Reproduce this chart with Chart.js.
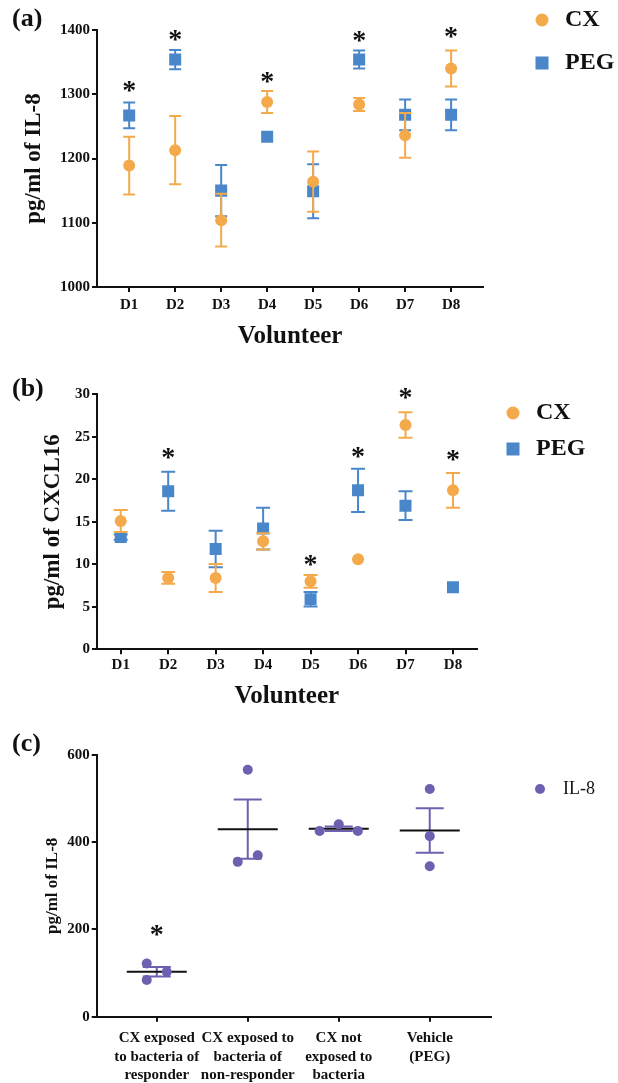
<!DOCTYPE html>
<html lang="en">
<head>
<meta charset="UTF-8">
<title>IL-8 / CXCL16 by volunteer</title>
<script src="https://cdn.jsdelivr.net/npm/chart.js"></script>
<style>
body { margin: 0; background: #fff; font-family: 'Liberation Serif', serif; }
.page { position: relative; width: 618px; height: 1083px; overflow: hidden; }
.panel { position: absolute; left: 0; width: 618px; }
.tag { position: absolute; left: 12px; font-weight: bold; font-size: 26px; line-height: 1; color: #111; }
</style>
</head>
<body>
<div class="page">
  <div class="panel" style="top:0;height:352px"><canvas id="chartA"></canvas></div>
  <div class="panel" style="top:352px;height:360px"><canvas id="chartB"></canvas></div>
  <div class="panel" style="top:712px;height:371px"><canvas id="chartC"></canvas></div>
  <div class="tag" style="top:5px">(a)</div>
  <div class="tag" style="top:375px">(b)</div>
  <div class="tag" style="top:730px">(c)</div>
</div>

<script>
// ---- data ----
const volunteers = ['D1', 'D2', 'D3', 'D4', 'D5', 'D6', 'D7', 'D8'];

// (a) IL-8, pg/ml
const il8CxMean  = [1189, 1213, 1104, 1288, 1164, 1284, 1236, 1340];
const il8CxErr   = [45, 53, 41, 17, 47, 10, 35, 28];
const il8PegMean = [1267, 1354, 1150, 1234, 1149, 1354, 1268, 1268];
const il8PegErr  = [20, 15, 40, 0, 42, 14, 24, 24];
const il8Stars   = [1312, 1391, null, 1327, null, 1390, null, 1396];

// (b) CXCL16, pg/ml
const cxclCxMean  = [15.1, 8.4, 8.4, 12.7, 8.0, 10.6, 26.4, 18.7];
const cxclCxErr   = [1.3, 0.7, 1.65, 0.95, 0.75, 0, 1.5, 2.05];
const cxclPegMean = [13.2, 18.6, 11.8, 14.2, 5.9, 18.7, 16.9, 7.3];
const cxclPegErr  = [0.3, 2.3, 2.15, 2.45, 0.85, 2.55, 1.7, 0];
const cxclStars   = [null, 23.0, null, null, 10.5, 23.2, 30.1, 22.8];

// (c) IL-8 after bacteria exposure
const groups = [
  ['CX exposed', 'to bacteria of', 'responder'],
  ['CX exposed to', 'bacteria of', 'non-responder'],
  ['CX not', 'exposed to', 'bacteria'],
  ['Vehicle', '(PEG)']
];
const groupPoints = [[122, 84, 103], [566, 355, 370], [426, 441, 426], [522, 414, 345]];
const groupSpread = [[-0.11, -0.11, 0.11], [0, -0.11, 0.11], [-0.21, 0, 0.21], [0, 0, 0]]; // dot jitter
const groupMean = [103, 430, 431, 427];
const groupSem  = [11, 68, 5, 51];
const groupStars = [199, null, null, null];

const CX = '#F4A94B';
const PEG = '#4A87CA';
const PURPLE = '#6F5FB0';
const INK = '#111';
const SERIF = '"Liberation Serif", "Times New Roman", serif';

Chart.defaults.font.family = SERIF;
Chart.defaults.color = INK;

// error bars drawn right before their own dataset
const errorBars = {
  id: 'errorBars',
  beforeDatasetDraw(chart, args, opts) {
    const ds = chart.data.datasets[args.index];
    if (!ds.errors) return;
    const { ctx, scales: { x, y } } = chart;
    const w = opts.cap / 2;
    ctx.save();
    ctx.strokeStyle = ds.backgroundColor;
    ctx.lineWidth = 2;
    ds.data.forEach((pt, j) => {
      const e = ds.errors[j];
      if (!e) return;
      const px = x.getPixelForValue(pt.x);
      const top = y.getPixelForValue(pt.y + e);
      const bot = y.getPixelForValue(pt.y - e);
      ctx.beginPath();
      ctx.moveTo(px, top); ctx.lineTo(px, bot);
      ctx.moveTo(px - w, top); ctx.lineTo(px + w, top);
      ctx.moveTo(px - w, bot); ctx.lineTo(px + w, bot);
      ctx.stroke();
    });
    ctx.restore();
  }
};

const stars = {
  id: 'stars',
  afterDatasetsDraw(chart, args, opts) {
    const { ctx, scales: { x, y } } = chart;
    ctx.save();
    ctx.font = 'bold ' + opts.size + 'px ' + SERIF;
    ctx.fillStyle = INK;
    ctx.textAlign = 'center';
    ctx.textBaseline = 'alphabetic';
    opts.values.forEach((v, i) => {
      if (v == null) return;
      ctx.fillText('*', x.getPixelForValue(i + 1), y.getPixelForValue(v) + opts.size * 0.45);
    });
    ctx.restore();
  }
};

const sideLegend = {
  id: 'sideLegend',
  afterDraw(chart, args, opts) {
    const ctx = chart.ctx;
    ctx.save();
    ctx.font = opts.font;
    ctx.textBaseline = 'middle';
    ctx.textAlign = 'left';
    chart.data.datasets.filter(ds => ds.label).forEach((ds, i) => {
      const cy = opts.y + i * opts.gap;
      ctx.fillStyle = ds.backgroundColor;
      if (ds.pointStyle === 'rect') {
        ctx.fillRect(opts.x - opts.r, cy - opts.r, opts.r * 2, opts.r * 2);
      } else {
        ctx.beginPath();
        ctx.arc(opts.x, cy, opts.r, 0, Math.PI * 2);
        ctx.fill();
      }
      ctx.fillStyle = INK;
      ctx.fillText(ds.label, opts.textX, cy);
    });
    ctx.restore();
  }
};

// mean line + SEM for panel (c)
const meanSem = {
  id: 'meanSem',
  beforeDatasetsDraw(chart, args, opts) {
    const { ctx, scales: { x, y } } = chart;
    ctx.save();
    ctx.lineWidth = 2;
    groupMean.forEach((m, i) => {
      const px = x.getPixelForValue(i + 1);
      const top = y.getPixelForValue(m + groupSem[i]);
      const bot = y.getPixelForValue(m - groupSem[i]);
      const my = y.getPixelForValue(m);
      ctx.strokeStyle = PURPLE;
      ctx.beginPath();
      ctx.moveTo(px, top); ctx.lineTo(px, bot);
      ctx.moveTo(px - 14, top); ctx.lineTo(px + 14, top);
      ctx.moveTo(px - 14, bot); ctx.lineTo(px + 14, bot);
      ctx.stroke();
      ctx.strokeStyle = INK;
      ctx.beginPath();
      ctx.moveTo(px - 30, my); ctx.lineTo(px + 30, my);
      ctx.stroke();
    });
    ctx.restore();
  }
};

const toXY = vals => vals.map((v, i) => ({ x: i + 1, y: v }));

function axisLook() {
  return {
    border: { display: true, color: INK, width: 2 },
    grid: { display: true, drawOnChartArea: false, drawTicks: true, tickLength: 5, color: INK, lineWidth: 2 }
  };
}

function volunteerChart(id, o) {
  new Chart(document.getElementById(id), {
    type: 'scatter',
    data: {
      datasets: [
        { label: 'CX', data: toXY(o.cx), errors: o.cxErr, pointStyle: 'circle', pointRadius: 6,
          backgroundColor: CX, borderColor: CX, borderWidth: 0 },
        { label: 'PEG', data: toXY(o.peg), errors: o.pegErr, pointStyle: 'rect', pointRadius: 8.5,
          backgroundColor: PEG, borderColor: PEG, borderWidth: 0 }
      ]
    },
    options: {
      responsive: true,
      maintainAspectRatio: false,
      animation: false,
      events: [],
      layout: { padding: o.pad },
      scales: {
        x: Object.assign(axisLook(), {
          type: 'linear', min: o.xMin, max: o.xMax,
          afterBuildTicks: s => { s.ticks = volunteers.map((v, i) => ({ value: i + 1 })); },
          afterFit: s => { s.height = o.xH; },
          ticks: { autoSkip: false, padding: o.xPad, font: { size: 15, weight: 'bold' },
                   callback: (v, i) => volunteers[i] },
          title: { display: true, text: 'Volunteer', padding: 0, font: { size: 25, weight: 'bold' } }
        }),
        y: Object.assign(axisLook(), {
          min: o.yMin, max: o.yMax,
          afterFit: s => { s.width = 97; },
          ticks: { stepSize: o.step, padding: 2, font: { size: 15, weight: 'bold' },
                   callback: v => String(v) },
          title: { display: true, text: o.yTitle, padding: { top: o.titlePad, bottom: 0 },
                   font: { size: 23, weight: 'bold' } }
        })
      },
      plugins: {
        legend: { display: false },
        tooltip: { enabled: false },
        errorBars: { cap: o.cap },
        stars: { values: o.stars, size: 28 },
        sideLegend: o.legend
      }
    },
    plugins: [errorBars, stars, sideLegend]
  });
}

volunteerChart('chartA', {
  cx: il8CxMean, cxErr: il8CxErr, peg: il8PegMean, pegErr: il8PegErr, stars: il8Stars,
  yMin: 1000, yMax: 1400, step: 100, yTitle: 'pg/ml of IL-8', titlePad: 20,
  xMin: 0.3, xMax: 8.7, xH: 65, xPad: 4, cap: 12,
  pad: { top: 30, right: 134.7, left: 0, bottom: 0 },
  legend: { x: 542, y: 20, gap: 43, r: 6.5, textX: 565, font: 'bold 24px ' + SERIF }
});

volunteerChart('chartB', {
  cx: cxclCxMean, cxErr: cxclCxErr, peg: cxclPegMean, pegErr: cxclPegErr, stars: cxclStars,
  yMin: 0, yMax: 30, step: 5, yTitle: 'pg/ml of CXCL16', titlePad: 39,
  xMin: 0.5, xMax: 8.5, xH: 62.7, xPad: 2, cap: 14,
  pad: { top: 42.3, right: 141.3, left: 0, bottom: 0 },
  legend: { x: 513, y: 61, gap: 36, r: 6.5, textX: 536, font: 'bold 24px ' + SERIF }
});

// (c) scatter dot plot with mean +/- SEM
const dots = [];
groupPoints.forEach((vals, g) => {
  vals.forEach((v, k) => dots.push({ x: g + 1 + groupSpread[g][k], y: v }));
});

new Chart(document.getElementById('chartC'), {
  type: 'scatter',
  data: {
    datasets: [{ label: 'IL-8', data: dots, pointStyle: 'circle', pointRadius: 5,
                 backgroundColor: PURPLE, borderColor: PURPLE, borderWidth: 0 }]
  },
  options: {
    responsive: true,
    maintainAspectRatio: false,
    animation: false,
    events: [],
    layout: { padding: { top: 43, right: 127.3, left: 0, bottom: 0 } },
    scales: {
      x: Object.assign(axisLook(), {
        type: 'linear', min: 0.34, max: 4.67,
        afterBuildTicks: s => { s.ticks = groups.map((g, i) => ({ value: i + 1 })); },
        afterFit: s => { s.height = 66.3; },
        ticks: { autoSkip: false, maxRotation: 0, padding: 7.5,
                 font: { size: 15, weight: 'bold', lineHeight: 1.22 },
                 callback: (v, i) => groups[i] }
      }),
      y: Object.assign(axisLook(), {
        min: 0, max: 600,
        afterFit: s => { s.width = 96.7; },
        ticks: { stepSize: 200, padding: 2, font: { size: 15, weight: 'bold' },
                 callback: v => String(v) },
        title: { display: true, text: 'pg/ml of IL-8', padding: { top: 42, bottom: 0 },
                 font: { size: 17, weight: 'bold' } }
      })
    },
    plugins: {
      legend: { display: false },
      tooltip: { enabled: false },
      stars: { values: groupStars, size: 28 },
      sideLegend: { x: 540, y: 77, gap: 30, r: 5, textX: 563, font: '18px ' + SERIF }
    }
  },
  plugins: [meanSem, stars, sideLegend]
});
</script>
</body>
</html>
